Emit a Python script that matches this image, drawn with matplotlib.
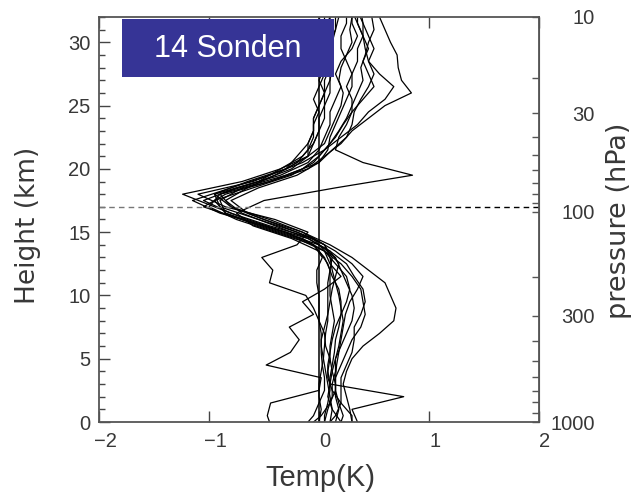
import numpy as np
import matplotlib
matplotlib.use("Agg")
import matplotlib.pyplot as plt
import matplotlib.transforms as mtransforms
from matplotlib.patches import Rectangle

plt.rcParams['font.family'] = ['Liberation Sans', 'DejaVu Sans']

# sonde levels (km): two launch grids
grid_a = [float(k) for k in range(34)]
grid_b = [0.0] + [k + 0.5 for k in range(33)]

# temperature deviation profiles (K), one per sonde
sonde_01 = [0.05, 0.08, 0.12, 0.12, 0.15, 0.15, 0.18, 0.2, 0.22, 0.2, 0.18, 0.15, 0.12, 0.1, 0.05, -0.15, -0.45,
            -0.8, -0.95, -0.65, -0.3, -0.1, 0.05, 0.1, 0.15, 0.2, 0.22, 0.18, 0.2, 0.25, 0.3, 0.28, 0.3, 0.3]
sonde_02 = [-0.45, -0.47, -0.44, 0.0, 0.02, -0.48, -0.26, -0.18, -0.27, -0.05, -0.15, 0.05, 0.2, 0.1, 0.05,
            -0.05, -0.45, -0.8, -1.05, -0.75, -0.35, -0.1, 0.0, 0.05, 0.1, 0.1, 0.15, 0.2, 0.15, 0.2, 0.3, 0.35,
            0.3, 0.3]
sonde_03 = [0.1, 0.12, 0.08, 0.1, 0.12, 0.1, 0.06, 0.05, 0.0, -0.05, -0.12, -0.45, -0.42, -0.52, -0.2, -0.1,
            -0.4, -0.85, -1.1, -0.6, -0.3, -0.2, -0.1, -0.05, -0.05, 0.0, 0.05, 0.05, 0.1, 0.05, 0.1, 0.15, 0.15,
            0.15]
sonde_04 = [0.3, 0.28, 0.25, 0.22, 0.25, 0.3, 0.4, 0.55, 0.68, 0.7, 0.65, 0.6, 0.45, 0.3, 0.1, -0.15, -0.5, -0.8,
            -0.9, -0.45, -0.1, 0.05, 0.2, 0.3, 0.45, 0.6, 0.84, 0.75, 0.72, 0.71, 0.65, 0.6, 0.55, 0.5]
sonde_05 = [0.2, 0.22, 0.18, 0.15, 0.15, 0.2, 0.25, 0.3, 0.38, 0.42, 0.4, 0.38, 0.3, 0.2, 0.05, -0.2, -0.55,
            -0.85, -0.95, -0.6, -0.25, -0.05, 0.05, 0.15, 0.22, 0.3, 0.4, 0.5, 0.45, 0.4, 0.45, 0.4, 0.35, 0.3]
sonde_06 = [0.05, 0.05, 0.08, 0.1, 0.1, 0.12, 0.14, 0.15, 0.18, 0.2, 0.2, 0.18, 0.12, 0.08, 0.0, -0.25, -0.6,
            -0.75, -0.5, 0.15, 0.85, 0.4, 0.15, 0.18, 0.25, 0.3, 0.3, 0.25, 0.3, 0.25, 0.2, 0.2, 0.25, 0.25]
sonde_07 = [0.35, 0.3, 0.77, 0.1, 0.08, 0.1, 0.1, 0.12, 0.14, 0.12, 0.1, 0.1, 0.1, 0.05, -0.05, -0.3, -0.65,
            -0.95, -1.24, -0.7, -0.35, -0.1, -0.05, 0.0, 0.0, 0.05, 0.05, 0.0, 0.05, 0.05, 0.0, 0.05, 0.1, 0.1]
sonde_08 = [-0.1, -0.05, 0.0, 0.05, 0.05, 0.03, 0.02, 0.02, 0.05, 0.08, 0.1, 0.12, 0.15, 0.18, 0.1, -0.1, -0.4,
            -0.7, -0.85, -0.65, -0.4, -0.2, -0.1, -0.05, -0.05, 0.0, -0.05, 0.0, 0.05, 0.0, -0.05, 0.0, 0.05, 0.05]
sonde_09 = [0.15, 0.18, 0.15, 0.15, 0.12, 0.15, 0.2, 0.25, 0.3, 0.32, 0.3, 0.25, 0.2, 0.15, 0.0, -0.35, -0.7,
            -1.05, -0.85, -0.45, -0.15, 0.0, 0.1, 0.18, 0.25, 0.3, 0.35, 0.4, 0.38, 0.42, 0.45, 0.5, 0.48, 0.5]
sonde_10 = [0.3, 0.3, 0.2, 0.12, 0.08, 0.08, 0.1, 0.12, 0.15, 0.2, 0.25, 0.28, 0.25, 0.15, 0.05, -0.15, -0.5,
            -0.9, -1.15, -0.8, -0.45, -0.15, 0.05, 0.2, 0.35, 0.45, 0.6, 0.68, 0.55, 0.45, 0.5, 0.45, 0.4, 0.35]
sonde_11 = [0.0, 0.02, 0.0, 0.0, 0.02, 0.04, 0.05, 0.06, 0.08, 0.08, 0.08, 0.08, 0.1, 0.12, 0.05, -0.2, -0.55,
            -0.9, -0.95, -0.55, -0.25, -0.1, -0.1, -0.05, -0.05, 0.0, 0.05, 0.1, 0.1, 0.08, 0.12, 0.15, 0.18, 0.2]
sonde_12 = [0.1, 0.15, 0.2, 0.2, 0.2, 0.25, 0.3, 0.32, 0.32, 0.38, 0.42, 0.4, 0.32, 0.25, 0.1, -0.1, -0.5,
            -0.85, -0.9, -0.7, -0.3, 0.0, 0.08, 0.1, 0.15, 0.2, 0.25, 0.3, 0.3, 0.35, 0.35, 0.4, 0.4, 0.38]
sonde_13 = [0.2, 0.12, 0.1, 0.08, 0.06, 0.04, 0.02, 0.02, 0.0, 0.0, 0.0, -0.02, -0.02, 0.03, -0.05, -0.4, -0.75,
            -1.0, -0.9, -0.55, -0.35, -0.15, -0.05, 0.0, 0.05, 0.05, 0.1, 0.1, 0.12, 0.1, 0.08, 0.1, 0.1, 0.1]
sonde_14 = [-0.05, 0.02, 0.1, 0.15, 0.15, 0.16, 0.18, 0.2, 0.22, 0.24, 0.28, 0.35, 0.4, 0.3, 0.15, -0.05, -0.35,
            -0.65, -0.8, -0.55, -0.2, 0.0, 0.12, 0.25, 0.3, 0.32, 0.38, 0.45, 0.5, 0.45, 0.42, 0.4, 0.35, 0.35]

profiles = [
    (grid_a, sonde_01), (grid_b, sonde_02), (grid_a, sonde_03), (grid_a, sonde_04),
    (grid_b, sonde_05), (grid_b, sonde_06), (grid_a, sonde_07), (grid_b, sonde_08),
    (grid_a, sonde_09), (grid_b, sonde_10), (grid_a, sonde_11), (grid_b, sonde_12),
    (grid_a, sonde_13), (grid_b, sonde_14),
]

tropopause_km = 17.0
n_sonden = len(profiles)

# height <-> pressure reference points for the right-hand axis
ref_km = [0.0, 8.4, 16.6, 24.4, 32.0]
ref_hpa = [1000.0, 300.0, 100.0, 30.0, 10.0]
p_major = [10, 30, 100, 300, 1000]
p_minor = [20, 40, 50, 60, 70, 80, 90, 200, 400, 500, 600, 700, 800, 900]

log_ref = np.log10(ref_hpa)


def km_to_hpa(z):
    return 10 ** np.interp(z, ref_km, log_ref)


def hpa_to_km(p):
    lp = np.log10(np.clip(p, 1e-3, None))
    return np.interp(lp, log_ref[::-1], ref_km[::-1])


W, H = 633, 499
txt = "#383838"
fig = plt.figure(figsize=(W / 100, H / 100), dpi=100)
ax = fig.add_axes([99 / W, 77 / H, 440 / W, 405 / H])

for z, t in profiles:
    ax.plot(t, z, color="black", lw=0.9)

ax.axvline(0, color="black", lw=1.1)
ax.plot([-2, 0], [tropopause_km] * 2, color="#777777", ls=(0, (4, 3)), lw=1.0)
ax.plot([0, 2], [tropopause_km] * 2, color="black", ls=(0, (4, 3)), lw=1.0)

ax.set_xlim(-2, 2)
ax.set_ylim(0, 32)
ax.set_xticks([-2, -1, 0, 1, 2])
ax.set_xticklabels(["\u22122", "\u22121", "0", "1", "2"])
ax.set_yticks([0, 5, 10, 15, 20, 25, 30])
ax.set_yticks(np.arange(0, 33, 1), minor=True)
ax.tick_params(axis="both", which="major", direction="in", length=8, width=1.0,
               labelsize=14.5, colors="#444444", labelcolor=txt)
ax.tick_params(axis="y", which="minor", direction="in", length=4, width=1.0, colors="#444444")
ax.tick_params(axis="x", which="both", top=True, pad=7)
ax.tick_params(axis="y", which="both", right=False, pad=6)
for s in ax.spines.values():
    s.set_linewidth(1.3)
    s.set_color("#555555")

# bottom labels sit a little right of their ticks
shift = mtransforms.ScaledTranslation(6 / 100, 0, fig.dpi_scale_trans)
for lab in ax.get_xticklabels():
    lab.set_transform(lab.get_transform() + shift)

sec = ax.secondary_yaxis("right", functions=(km_to_hpa, hpa_to_km))
sec.set_yticks(p_major)
sec.set_yticklabels([str(p) for p in p_major])
sec.set_yticks(p_minor, minor=True)
sec.yaxis.set_minor_formatter(plt.NullFormatter())
sec.tick_params(which="both", direction="in", length=5, width=1.0, labelsize=14.5,
                colors="#555555", labelcolor=txt, pad=40)
for lab in sec.get_yticklabels():
    lab.set_horizontalalignment("right")
sec.spines["right"].set_color("#555555")

fig.text(320 / W, 1 - 478 / H, "Temp(K)", fontsize=21, ha="center", va="center", color=txt)
fig.text(28 / W, 1 - 225 / H, "Height (km)", fontsize=19, rotation=90, ha="center", va="center",
         color=txt, family=["DejaVu Sans"])
fig.text(619 / W, 1 - 221 / H, "pressure (hPa)", fontsize=19.5, rotation=90, ha="center", va="center",
         color=txt, family=["DejaVu Sans"])

# title box
box = Rectangle((122 / W, 1 - 77 / H), 212 / W, 58 / H, transform=fig.transFigure,
                facecolor="#363496", edgecolor="none", zorder=10, clip_on=False)
ax.add_patch(box)
ax.text(228 / W, 1 - 49 / H, f"{n_sonden} Sonden", transform=fig.transFigure,
        ha="center", va="center", color="white", fontsize=22, zorder=11)

fig.savefig("out.png", dpi=100)
